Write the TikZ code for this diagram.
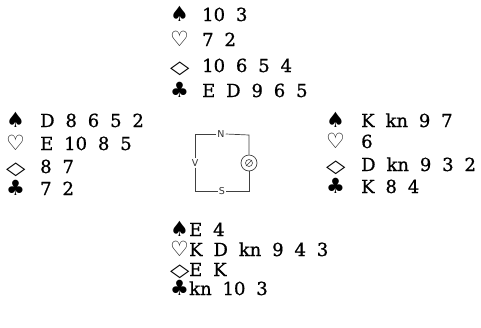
\documentclass[tikz,border=0pt]{standalone}
\usepackage{fontspec}
\usepackage{graphicx}
\usetikzlibrary{calc}
\setmainfont{DejaVu Serif}
\newfontfamily\cardfont[WordSpace=1.9, FakeBold=0.8]{DejaVu Serif}
\newfontfamily\suitfont{DejaVu Sans}
\newfontfamily\labfont{DejaVu Sans}
\newcommand{\widediam}{\scalebox{1.4}[1]{◇}}
\begin{document}
\begin{tikzpicture}[x=1pt,y=-1pt,
  suit/.style={inner sep=0pt, anchor=base west, text height=13pt, text depth=1pt, font=\suitfont\fontsize{21}{21}\selectfont},
  dsuit/.style={inner sep=0pt, anchor=base west, text height=12pt, text depth=1pt, font=\suitfont\fontsize{18}{18}\selectfont},
  card/.style={inner sep=0pt, anchor=base west, font=\cardfont\fontsize{18}{18}\selectfont},
  lab/.style={inner sep=1pt, font=\labfont\fontsize{9.5}{9.5}\selectfont, text=black!80},
  tab/.style={line width=0.7pt, black!75}]
\fill[white] (0,0) rectangle (481,327);
\useasboundingbox (0,0) rectangle (481,327);
% North
\node[suit] (ns) at (170,21) {♠};
\node[card] (nst) at (202,21) {10 3};
\node[suit] (nh) at (170,46) {♡};
\node[card] (nht) at (202,46) {7 2};
\node[dsuit] (nd) at (170,73) {\widediam};
\node[card] (ndt) at (202,72) {10 6 5 4};
\node[suit] (nc) at (170,97) {♣};
\node[card] (nct) at (202,97) {E D 9 6 5};
% West
\node[suit] (ws) at (6,127) {♠};
\node[card] (wst) at (40,127) {D 8 6 5 2};
\node[suit] (wh) at (6,150) {♡};
\node[card] (wht) at (40,150) {E 10 8 5};
\node[dsuit] (wd) at (6,174) {\widediam};
\node[card] (wdt) at (40,173) {8 7};
\node[suit] (wc) at (6,195) {♣};
\node[card] (wct) at (40,195) {7 2};
% East
\node[suit] (es) at (326,127) {♠};
\node[card] (est) at (361,127) {K kn 9 7};
\node[suit] (eh) at (326,148) {♡};
\node[card] (eht) at (361,148) {6};
\node[dsuit] (ed) at (326,172) {\widediam};
\node[card] (edt) at (361,171) {D kn 9 3 2};
\node[suit] (ec) at (326,193) {♣};
\node[card] (ect) at (361,193) {K 8 4};
% South
\node[suit] (ss) at (170,236) {♠};
\node[card] (sst) at (189,236) {E 4};
\node[suit] (sh) at (170,256) {♡};
\node[card] (sht) at (189,256) {K D kn 9 4 3};
\node[dsuit] (sd) at (170,276) {\widediam};
\node[card] (sdt) at (189,276) {E K};
\node[suit] (sc) at (170,295) {♣};
\node[card] (sct) at (189,295) {kn 10 3};
% table diagram
\coordinate (tl) at (195,135);
\coordinate (tr) at (249,135);
\coordinate (bl) at (195,191);
\coordinate (br) at (249,191);
\node[lab] (N) at (221,134) {N};
\node[lab] (S) at (222,191) {S};
\node[lab] (V) at (195,163) {V};
\node[circle, draw, tab, minimum size=16pt, inner sep=0pt] (D) at (249,163) {};
\draw[tab] (N.west) -- (N.west -| tl) -- (V.north);
\draw[tab] (V.south) -- (bl) -- (S.west);
\draw[tab] (N.east) -- (tr) -- (D.north);
\draw[tab] (D.south) -- (br) -- (S.east);
\draw[tab, line width=0.6pt] (D.center) circle (3.5pt);
\draw[tab, line width=0.6pt] ($(D.center)+(-3,3)$) -- ($(D.center)+(3,-3)$);
\end{tikzpicture}
\end{document}
